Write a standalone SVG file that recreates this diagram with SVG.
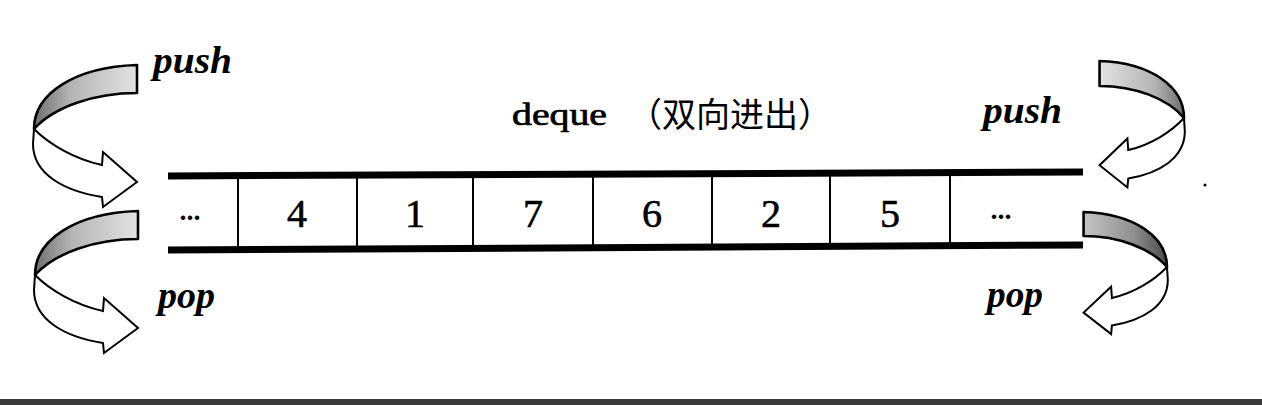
<svg xmlns="http://www.w3.org/2000/svg" width="1262" height="405" viewBox="0 0 1262 405">
<style>
.band{stroke:#000;stroke-width:2.6;stroke-linejoin:round}
.arrow{fill:#fff;stroke:#000;stroke-width:2;stroke-linejoin:miter}
.rail{stroke:#000;stroke-width:7;stroke-linecap:butt}
.div{stroke:#000;stroke-width:2}
.num{font-family:"Liberation Serif",serif;font-size:40px;fill:#000;stroke:#000;stroke-width:0.6;text-anchor:middle}
.dots{font-family:"Liberation Serif",serif;font-size:28px;font-weight:bold;fill:#000;text-anchor:middle}
.lbl{font-family:"Liberation Serif",serif;font-style:italic;font-weight:bold;font-size:37px;fill:#000}
.title{font-family:"Liberation Serif",serif;font-size:32px;fill:#000;stroke:#000;stroke-width:0.7}
.cjk{font-family:"Noto Sans CJK SC",sans-serif;font-size:34px;fill:#000}
</style>
<defs>
<linearGradient id="shade" x1="0" y1="0" x2="1" y2="0">
<stop offset="0" stop-color="#6e6e6e"/>
<stop offset="0.35" stop-color="#b4b4b4"/>
<stop offset="1" stop-color="#e2e2e2"/>
</linearGradient>
<linearGradient id="shadeDark" x1="0" y1="0" x2="1" y2="0">
<stop offset="0" stop-color="#4a4a4a"/>
<stop offset="0.4" stop-color="#8f8f8f"/>
<stop offset="1" stop-color="#c4c4c4"/>
</linearGradient>
<g id="curl">
<path class="band" fill="url(#shade)" vector-effect="non-scaling-stroke" d="M 0,0 C 0,-35 40,-62 103,-64 L 103,-36 C 60,-36 20,-22 0,0 Z"/>
<path class="arrow" vector-effect="non-scaling-stroke" d="M 0,0 C 15,15 40,30 68,36 L 69,23 L 103,53 L 69,78 L 68,68 C 30,62 -1,45 -1,15 Z"/>
</g>
<g id="curlDark">
<path class="band" fill="url(#shadeDark)" vector-effect="non-scaling-stroke" d="M 0,0 C 0,-35 40,-62 103,-64 L 103,-36 C 60,-36 20,-22 0,0 Z"/>
<path class="arrow" vector-effect="non-scaling-stroke" d="M 0,0 C 15,15 40,30 68,36 L 69,23 L 103,53 L 69,78 L 68,68 C 30,62 -1,45 -1,15 Z"/>
</g>
</defs>
<rect x="0" y="0" width="1262" height="405" fill="#fff"/>

<g id="deque">
<line class="rail" x1="168" y1="176" x2="1083" y2="172"/>
<line class="rail" x1="168" y1="250" x2="1083" y2="245"/>
<line class="div" x1="238" y1="176" x2="238" y2="250"/>
<line class="div" x1="357" y1="175" x2="357" y2="249"/>
<line class="div" x1="473" y1="175" x2="473" y2="248"/>
<line class="div" x1="593" y1="174" x2="593" y2="248"/>
<line class="div" x1="712" y1="174" x2="712" y2="247"/>
<line class="div" x1="830" y1="173" x2="830" y2="247"/>
<line class="div" x1="950" y1="173" x2="950" y2="246"/>
<text class="dots" x="190" y="220">...</text>
<text class="num" x="297" y="227">4</text>
<text class="num" x="415" y="227">1</text>
<text class="num" x="533" y="227">7</text>
<text class="num" x="652" y="227">6</text>
<text class="num" x="771" y="227">2</text>
<text class="num" x="890" y="227">5</text>
<text class="dots" x="1001" y="219">...</text>
</g>

<g id="title">
<text class="title" x="512" y="125" textLength="95" lengthAdjust="spacingAndGlyphs">deque</text>
<text class="cjk" x="628" y="127">（双向进出）</text>
</g>

<g id="push-left">
<use href="#curl" transform="translate(34,129)"/>
<text class="lbl" x="153" y="73" textLength="79" lengthAdjust="spacingAndGlyphs">push</text>
</g>
<g id="pop-left">
<use href="#curl" transform="translate(35,275)"/>
<text class="lbl" x="158" y="308" textLength="57" lengthAdjust="spacingAndGlyphs">pop</text>
</g>
<g id="push-right">
<use href="#curl" transform="translate(1184,118) scale(-0.82,0.89)"/>
<text class="lbl" x="983" y="123" textLength="79" lengthAdjust="spacingAndGlyphs">push</text>
</g>
<g id="pop-right">
<use href="#curlDark" transform="translate(1167,267) scale(-0.81,0.86)"/>
<text class="lbl" x="987" y="307" textLength="56" lengthAdjust="spacingAndGlyphs">pop</text>
</g>

<circle cx="1205" cy="185" r="1.5" fill="#000"/>
<rect x="0" y="399" width="1262" height="6" fill="#3b3b3b"/>
</svg>
